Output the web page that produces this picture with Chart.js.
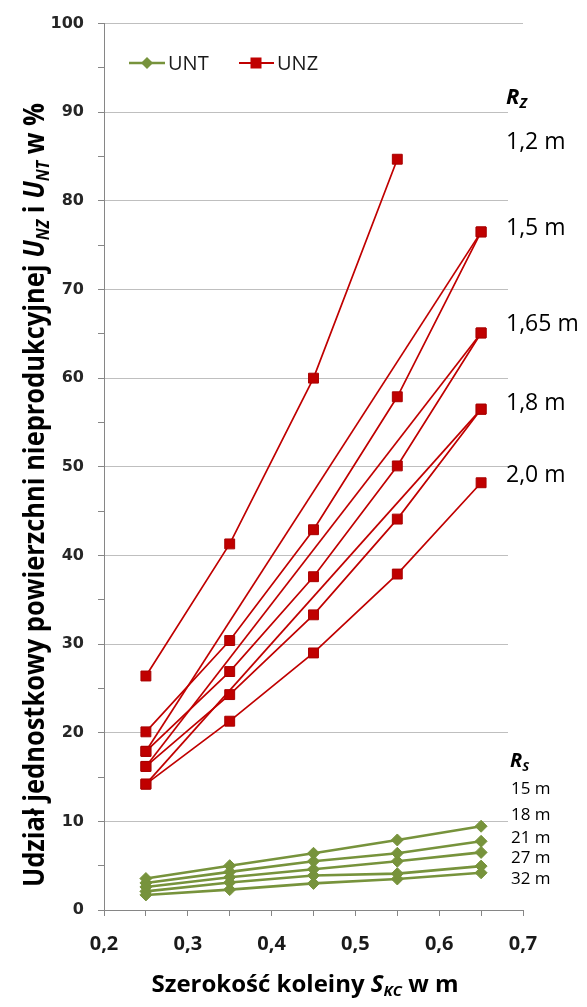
<!DOCTYPE html>
<html lang="pl">
<head>
<meta charset="utf-8">
<title>Udział jednostkowy powierzchni nieprodukcyjnej</title>
<script src="https://cdn.jsdelivr.net/npm/chart.js@4.4.1/dist/chart.umd.min.js"></script>
<style>
  html, body { margin: 0; padding: 0; background: #ffffff; }
  #wrap { width: 587px; height: 1007px; }
</style>
</head>
<body>
<div id="wrap"><canvas id="chart" width="587" height="1007"></canvas></div>
<script>
// Szerokość koleiny S_KC [m]
const szerokosc = [0.25, 0.35, 0.45, 0.55, 0.65];

// U_NZ [%] dla rozstawu R_Z
const unz_12 = [26.4, 41.3, 60.0, 84.7, null];
const unz_15 = [20.1, 30.4, 42.9, 57.9, 76.5];
const unz_165 = [17.9, 26.9, 37.6, 50.1, 65.1];
const unz_18 = [16.2, 24.3, 33.3, 44.1, 56.5];
const unz_20 = [14.2, 21.3, 29.0, 37.9, 48.2];
// proste łączące skrajne szerokości
const unz_15_prosta = [17.9, null, null, null, 76.5];
const unz_165_prosta = [16.2, null, null, null, 65.1];
const unz_18_prosta = [14.2, null, null, null, 56.5];

// U_NT [%] dla rozstawu R_S
const unt_15 = [3.55, 5.0, 6.4, 7.9, 9.45];
const unt_18 = [3.05, 4.3, 5.5, 6.4, 7.75];
const unt_21 = [2.6, 3.7, 4.6, 5.5, 6.5];
const unt_27 = [2.1, 3.1, 3.9, 4.1, 4.95];
const unt_32 = [1.7, 2.3, 3.0, 3.5, 4.2];

// Opisy
const rzLabels = ['1,2 m', '1,5 m', '1,65 m', '1,8 m', '2,0 m'];
const rsLabels = ['15 m', '18 m', '21 m', '27 m', '32 m'];
const legendNames = ['UNT', 'UNZ'];

const RED = '#c00000';
const GREEN = '#77933c';
const FONT = 'Open Sans';

const points = vals => szerokosc.map((x, i) => ({ x: x, y: vals[i] }));

const redStyle = {
  borderColor: RED, borderWidth: 1.7,
  pointStyle: 'rect', pointRadius: 7, pointHoverRadius: 7,
  pointBackgroundColor: RED, pointBorderColor: '#a80000', pointBorderWidth: 1,
  spanGaps: true, tension: 0, fill: false
};
const greenStyle = {
  borderColor: GREEN, borderWidth: 2.6,
  pointStyle: 'rectRot', pointRadius: 6, pointHoverRadius: 6,
  pointBackgroundColor: GREEN, pointBorderColor: GREEN, pointBorderWidth: 1,
  spanGaps: true, tension: 0, fill: false
};

const datasets = [
  ...[unz_12, unz_15, unz_165, unz_18, unz_20, unz_15_prosta, unz_165_prosta, unz_18_prosta]
    .map(v => Object.assign({ label: 'UNZ', data: points(v) }, redStyle)),
  ...[unt_15, unt_18, unt_21, unt_27, unt_32]
    .map(v => Object.assign({ label: 'UNT', data: points(v) }, greenStyle))
];

// draws a run of text pieces with different fonts / vertical offsets
function richWidth(ctx, parts) {
  let w = 0;
  for (const p of parts) { ctx.font = p.font; w += ctx.measureText(p.t).width; }
  return w;
}
function drawRich(ctx, parts, x, y) {
  let cx = x;
  for (const p of parts) {
    ctx.font = p.font;
    ctx.fillText(p.t, cx, y + (p.dy || 0));
    cx += ctx.measureText(p.t).width;
  }
}

const annotations = {
  id: 'annotations',
  beforeDatasetsDraw(chart) {
    const ctx = chart.ctx;
    // white panel behind the right-hand descriptions
    ctx.save();
    ctx.fillStyle = '#ffffff';
    ctx.fillRect(508, 60, chart.width - 508, 846);
    ctx.restore();
  },
  afterDraw(chart) {
    const ctx = chart.ctx;
    ctx.save();
    ctx.fillStyle = '#000000';
    ctx.textBaseline = 'alphabetic';
    ctx.textAlign = 'left';

    // legend
    const ly = 63;
    ctx.strokeStyle = GREEN; ctx.lineWidth = 2.6;
    ctx.beginPath(); ctx.moveTo(129, ly); ctx.lineTo(165, ly); ctx.stroke();
    ctx.fillStyle = GREEN;
    ctx.beginPath(); ctx.moveTo(147, ly - 6); ctx.lineTo(153, ly); ctx.lineTo(147, ly + 6); ctx.lineTo(141, ly); ctx.closePath(); ctx.fill();
    ctx.strokeStyle = RED; ctx.lineWidth = 1.8;
    ctx.beginPath(); ctx.moveTo(239, ly); ctx.lineTo(274, ly); ctx.stroke();
    ctx.fillStyle = RED;
    ctx.fillRect(250.5, ly - 5.5, 11, 11);
    ctx.fillStyle = '#1a1a1a';
    ctx.font = '20px "' + FONT + '"';
    ctx.textBaseline = 'middle';
    ctx.fillText(legendNames[0], 168, ly + 1);
    ctx.fillText(legendNames[1], 277, ly + 1);
    ctx.textBaseline = 'alphabetic';

    // R_Z descriptions
    ctx.fillStyle = '#000000';
    drawRich(ctx, [
      { t: 'R', font: 'italic bold 22px "' + FONT + '"' },
      { t: 'Z', font: 'italic bold 14px "' + FONT + '"', dy: 4 }
    ], 506, 104);
    const rzY = [149, 235, 331, 410, 482];
    ctx.font = '23px "' + FONT + '"';
    rzLabels.forEach((t, i) => ctx.fillText(t, 506, rzY[i]));

    // R_S descriptions
    drawRich(ctx, [
      { t: 'R', font: 'italic bold 20px "' + FONT + '"' },
      { t: 'S', font: 'italic bold 13px "' + FONT + '"', dy: 4 }
    ], 510, 767);
    const rsY = [794, 820, 843, 863, 884];
    ctx.font = '17px "' + FONT + '"';
    rsLabels.forEach((t, i) => ctx.fillText(t, 511, rsY[i]));

    // x axis title
    const xParts = [
      { t: 'Szerokość koleiny ', font: 'bold 24px "' + FONT + '"' },
      { t: 'S', font: 'italic bold 24px "' + FONT + '"' },
      { t: 'KC', font: 'italic bold 15px "' + FONT + '"', dy: 4 },
      { t: ' w m', font: 'bold 24px "' + FONT + '"' }
    ];
    const xw = richWidth(ctx, xParts);
    drawRich(ctx, xParts, 305 - xw / 2, 992);

    // y axis title (rotated, condensed)
    const yParts = [
      { t: 'Udział jednostkowy powierzchni nieprodukcyjnej ', font: 'bold 29px "' + FONT + '"' },
      { t: 'U', font: 'italic bold 29px "' + FONT + '"' },
      { t: 'NZ', font: 'italic bold 18px "' + FONT + '"', dy: 5 },
      { t: ' i ', font: 'bold 29px "' + FONT + '"' },
      { t: 'U', font: 'italic bold 29px "' + FONT + '"' },
      { t: 'NT', font: 'italic bold 18px "' + FONT + '"', dy: 5 },
      { t: ' w %', font: 'bold 29px "' + FONT + '"' }
    ];
    const yw = richWidth(ctx, yParts);
    const span = 784;
    ctx.translate(44, 495);
    ctx.rotate(-Math.PI / 2);
    ctx.scale(span / yw, 1);
    drawRich(ctx, yParts, -yw / 2, 0);
    ctx.restore();
  }
};

new Chart(document.getElementById('chart'), {
  type: 'line',
  data: { datasets: datasets },
  plugins: [annotations],
  options: {
    responsive: false,
    animation: false,
    events: [],
    layout: { padding: { top: 20, right: 64, left: 0, bottom: 0 } },
    plugins: { legend: { display: false }, tooltip: { enabled: false } },
    scales: {
      x: {
        type: 'linear', min: 0.2, max: 0.7,
        afterFit: s => { s.height = 97; },
        border: { color: '#868686', width: 1 },
        grid: { drawOnChartArea: false, tickLength: 6, tickColor: '#868686' },
        ticks: {
          stepSize: 0.05, autoSkip: false, maxRotation: 0, padding: 16,
          color: '#1a1a1a',
          font: { family: FONT, weight: 'bold', size: 20 },
          callback: v => {
            const k = Math.round(v * 100);
            return k % 10 === 0 ? (k / 100).toFixed(1).replace('.', ',') : '';
          }
        }
      },
      y: {
        min: 0, max: 100,
        afterFit: s => { s.width = 104; },
        border: { color: '#868686', width: 1 },
        grid: {
          tickLength: 6, tickColor: '#868686', lineWidth: 1,
          color: c => (c.tick && Math.round(c.tick.value) % 10 === 0) ? '#bfbfbf' : 'rgba(0,0,0,0)'
        },
        ticks: {
          stepSize: 5, autoSkip: false, padding: 14,
          color: '#262626',
          font: { family: 'DejaVu Sans', weight: 'bold', size: 16 },
          callback: v => (Math.round(v) % 10 === 0 ? String(Math.round(v)) : '')
        }
      }
    }
  }
});
</script>
</body>
</html>
